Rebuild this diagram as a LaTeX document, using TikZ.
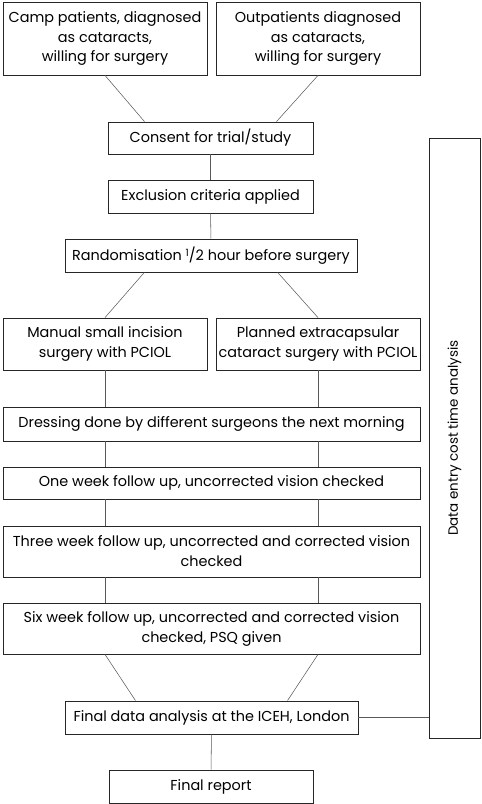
\documentclass[tikz,border=0pt]{standalone}
\usepackage{fontspec}
\setmainfont{Poppins}
\usetikzlibrary{calc}

\begin{document}
\begin{tikzpicture}[auto,
    stage/.style ={draw=black!85, line width=0.7pt, align=center,
      inner sep=1pt, font=\fontsize{12.3}{17}\selectfont},
    link/.style ={draw=black!65, line width=0.45pt}]
   \useasboundingbox (0,0) rectangle (14.46,-24.12);

   \node[stage, minimum width=6.12cm, minimum height=2.19cm] (camp) at (3.15,-1.155)
     {Camp patients, diagnosed\\as cataracts,\\willing for surgery};
   \node[stage, minimum width=6.12cm, minimum height=2.19cm] (outpat) at (9.54,-1.155)
     {Outpatients diagnosed\\as cataracts,\\willing for surgery};
   \node[stage, minimum width=6.15cm, minimum height=0.96cm] (consent) at (6.315,-4.14)
     {Consent for trial/study};
   \node[stage, minimum width=6.15cm, minimum height=0.99cm] (exclusion) at (6.315,-5.895)
     {Exclusion criteria applied};
   \node[stage, minimum width=8.76cm, minimum height=0.99cm] (random) at (6.33,-7.665)
     {Randomisation \raisebox{0.55ex}{\fontsize{8.5}{9}\selectfont 1}/2 hour before surgery};
   \node[stage, minimum width=6.12cm, minimum height=1.56cm] (manual) at (3.15,-10.32)
     {Manual small incision\\surgery with PCIOL};
   \node[stage, minimum width=6.12cm, minimum height=1.56cm] (planned) at (9.54,-10.32)
     {Planned extracapsular\\cataract surgery with PCIOL};
   \node[stage, minimum width=12.51cm, minimum height=1.02cm] (dressing) at (6.345,-12.72)
     {Dressing done by different surgeons the next morning};
   \node[stage, minimum width=12.51cm, minimum height=0.96cm] (oneweek) at (6.345,-14.49)
     {One week follow up, uncorrected vision checked};
   \node[stage, minimum width=12.51cm, minimum height=1.53cm] (threeweek) at (6.345,-16.545)
     {Three week follow up, uncorrected and corrected vision\\checked};
   \node[stage, minimum width=12.51cm, minimum height=1.53cm] (sixweek) at (6.345,-18.855)
     {Six week follow up, uncorrected and corrected vision\\checked, PSQ given};
   \node[stage, minimum width=8.79cm, minimum height=0.99cm] (analysis) at (6.345,-21.525)
     {Final data analysis at the ICEH, London};
   \node[stage, minimum width=6.12cm, minimum height=0.99cm] (report) at (6.33,-23.595)
     {Final report};
   \node[stage, minimum width=1.53cm, minimum height=18cm,
     font=\fontsize{11.5}{14}\selectfont] (costs) at (13.635,-13.14)
     {\rotatebox{90}{Data entry cost time analysis}};

   % top part
   \draw[link] (camp.south) -- ($(consent.north)+(-1.98,0)$);
   \draw[link] (outpat.south) -- ($(consent.north)+(1.98,0)$);
   \draw[link] (consent) -- (exclusion);
   \draw[link] (exclusion) -- (random);
   \draw[link] ($(random.south)+(-2.0,0)$) -- (manual.north);
   \draw[link] ($(random.south)+(2.0,0)$) -- (planned.north);

   % two arms
   \foreach \arm in {manual, planned} {
     \draw[link] (\arm.south) -- (\arm.south |- dressing.north);
     \draw[link] (dressing.south -| \arm.south) -- (oneweek.north -| \arm.south);
     \draw[link] (oneweek.south -| \arm.south) -- (threeweek.north -| \arm.south);
     \draw[link] (threeweek.south -| \arm.south) -- (sixweek.north -| \arm.south);
   }
   \draw[link] (sixweek.south -| manual.south) -- ($(analysis.north)+(-2.28,0)$);
   \draw[link] (sixweek.south -| planned.south) -- ($(analysis.north)+(2.28,0)$);

   % end
   \draw[link] (analysis) -- (report);
   \draw[link] (analysis.east) -- (analysis.east -| costs.west);
 \end{tikzpicture}
\end{document}
